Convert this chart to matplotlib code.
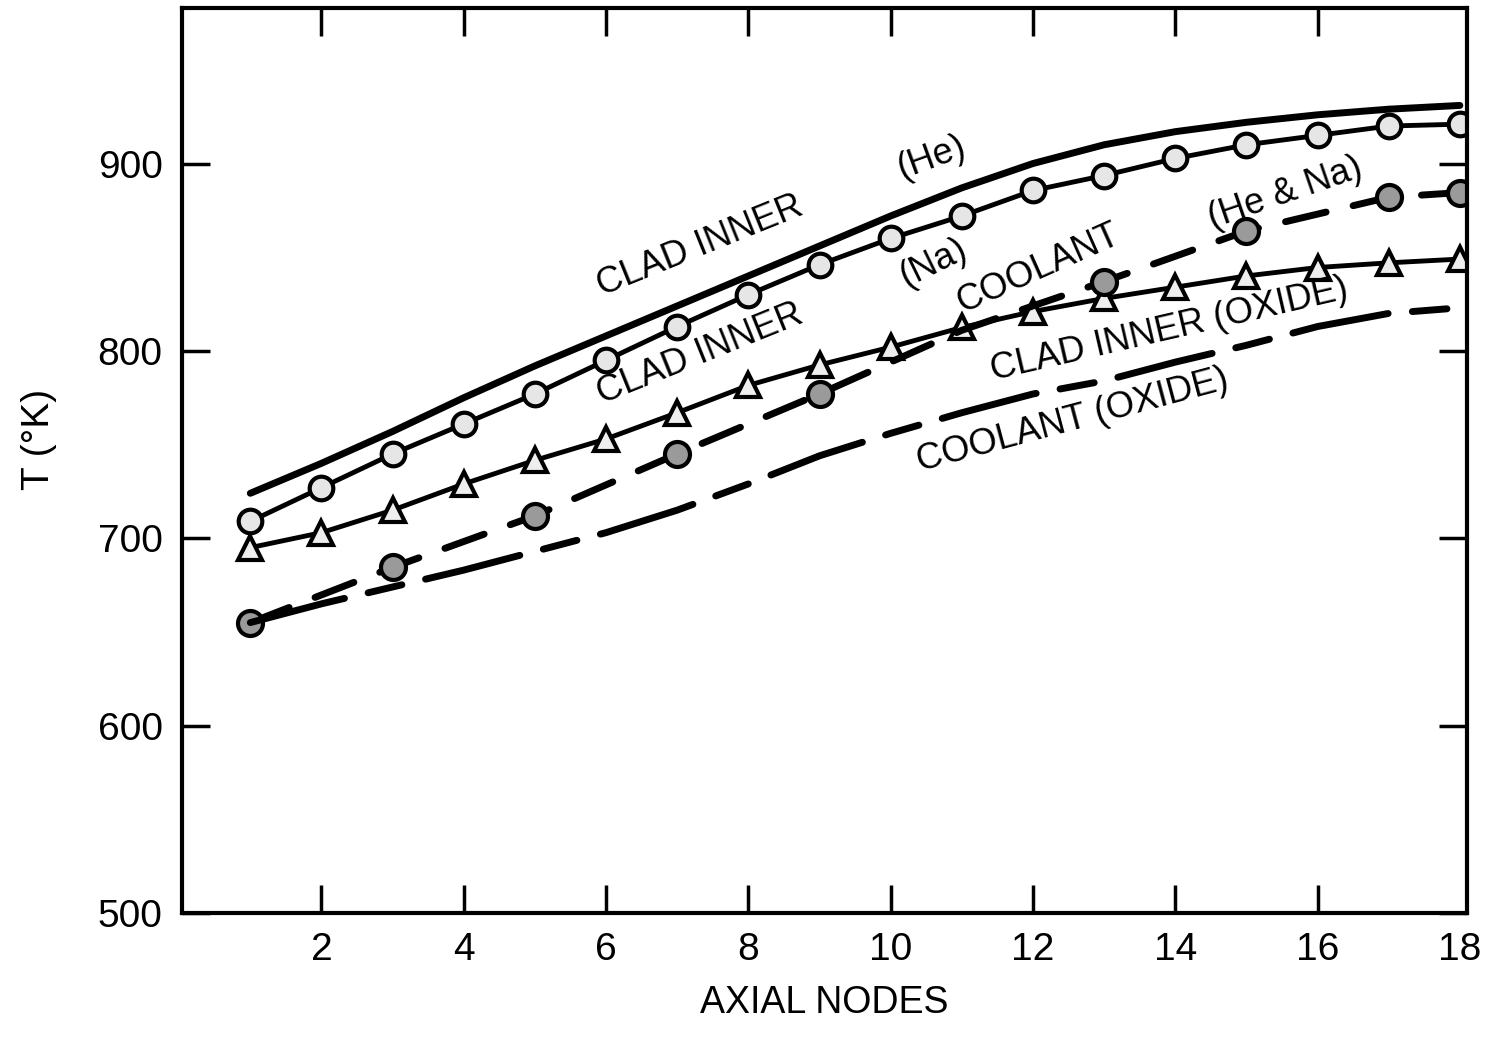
import numpy as np
import matplotlib
matplotlib.use("Agg")
import matplotlib.pyplot as plt

plt.rcParams['font.family'] = ['Liberation Sans', 'DejaVu Sans']

# axial node temperatures (K)
nodes = np.arange(1, 19)
clad_inner_he = [724, 740, 757, 775, 792, 808, 824, 840, 856, 872,
                 887, 900, 910, 917, 922, 926, 929, 931]
clad_inner_na = [709, 727, 745, 761, 777, 795, 813, 830, 846, 860,
                 872, 885.6, 893.6, 902.7, 910, 915, 920, 921]
clad_inner_oxide = [695, 703, 715, 729, 741.6, 753, 767, 781.6, 792.5, 802,
                    812.5, 821, 828, 834, 840, 844.5, 847, 849]
coolant_oxide = [655, 665, 674, 683, 693, 703, 715, 729, 744, 756,
                 767, 777, 784, 794, 803, 813, 820, 823]

coolant_nodes = [1, 3, 5, 7, 9, 11, 13, 15, 17, 18]
coolant_he_na = [655, 684.5, 712, 745, 777, 811, 837, 864, 882, 884.5]

fig = plt.figure(figsize=(14.94, 10.42), dpi=100)
ax = fig.add_axes([182/1494, 129/1042, 1285/1494, 905/1042])

# clad inner, helium bond
ax.plot(nodes, clad_inner_he, color='black', lw=5, solid_capstyle='round')
# clad inner, sodium bond
ax.plot(nodes, clad_inner_na, color='black', lw=3.5, marker='o', ms=17,
        mfc='#e6e6e6', mec='black', mew=3)
# clad inner, oxide
ax.plot(nodes, clad_inner_oxide, color='black', lw=3.5, marker='^', ms=17,
        mfc='#eeeeee', mec='black', mew=3)
# coolant, He & Na
ax.plot(coolant_nodes, coolant_he_na, color='black', lw=5, dashes=(6, 4),
        marker='o', ms=18, mfc='#9a9a9a', mec='black', mew=3,
        markevery=[0, 1, 2, 3, 4, 6, 7, 8, 9], dash_capstyle='round')
# coolant, oxide
ax.plot(nodes, coolant_oxide, color='black', lw=5, dashes=(14, 3.5, 5, 3.5),
        dash_capstyle='round')

# curve labels
lab = dict(fontsize=26, color='black', ha='center', va='center',
           rotation_mode='anchor')
ax.text(7.32, 856, 'CLAD INNER', rotation=22, **lab)
ax.text(10.58, 903, '(He)', rotation=20, **lab)
ax.text(7.32, 798, 'CLAD INNER', rotation=22, **lab)
ax.text(10.6, 847, '(Na)', rotation=26, **lab)
ax.text(12.07, 844, 'COOLANT', rotation=24, **lab)
ax.text(15.54, 884, '(He & Na)', rotation=19, **lab)
ax.text(13.91, 811, 'CLAD INNER (OXIDE)', rotation=13, **lab)
ax.text(12.56, 763, 'COOLANT (OXIDE)', rotation=15, **lab)

ax.set_xlim(0.04, 18.1)
ax.set_ylim(500, 983)
ax.set_xticks(range(2, 19, 2))
ax.set_yticks(range(500, 901, 100))
ax.tick_params(direction='in', length=20, width=2.5, top=True, right=True,
               labelsize=28, pad=14)
last = ax.xaxis.get_major_ticks()[-1]
last.tick1line.set_visible(False)
last.tick2line.set_visible(False)
for s in ax.spines.values():
    s.set_linewidth(3)

ax.set_xlabel('AXIAL NODES', fontsize=27, labelpad=12)
ax.set_ylabel('T (°K)', fontsize=28)
ax.yaxis.set_label_coords(-0.097, 0.523)

fig.savefig('out.png', dpi=100)
